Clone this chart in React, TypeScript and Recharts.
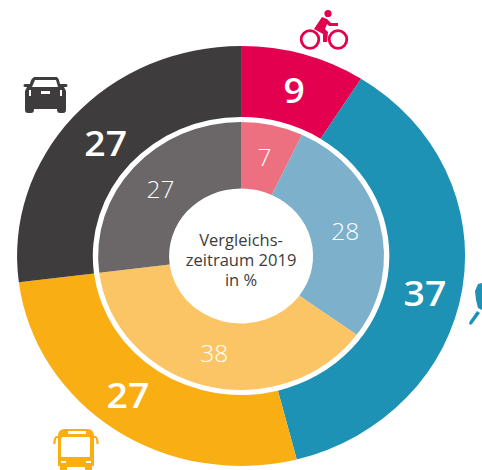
import React from 'react';
import { PieChart, Pie, Cell } from 'recharts';

// outer ring: current period, inner ring: 2019
const modes = ['Rad', 'Fuss', 'Bus', 'Auto'];
const outerValues = [9, 37, 27, 27];
const innerValues = [7, 28, 38, 27];
const outerColors = ['#E2004F', '#1D92B5', '#F9AE14', '#3E3C3D'];
const innerColors = ['#EC7080', '#7CB0CB', '#FBC566', '#6B6667'];
const centerLines = ['Vergleichs-', 'zeitraum 2019', 'in %'];

const outerData = modes.map((name, i) => ({ name, value: outerValues[i] }));
const innerData = modes.map((name, i) => ({ name, value: innerValues[i] }));

// the picture is stretched sideways a little, so the whole chart is too
const STRETCH = 1.0667;
const CX = 226;
const CY = 256;

const RAD = Math.PI / 180;

const ringLabel = (size: number, weight: number, nudge: number[][]) => (props: any) => {
  const { midAngle, innerRadius, outerRadius, value, index } = props;
  const r = (innerRadius + outerRadius) / 2;
  const x = CX + r * Math.cos(-midAngle * RAD) + nudge[index][0];
  const y = CY + r * Math.sin(-midAngle * RAD) + nudge[index][1];
  return (
    <text x={x} y={y} fill="#fff" fontSize={size} fontWeight={weight} textAnchor="middle" dominantBaseline="central">
      {value}
    </text>
  );
};

const Icons = () => (
  <svg width={482} height={470} style={{ position: 'absolute', left: 0, top: 0 }}>
    {/* bike */}
    <g fill="none" stroke="#E2004F" strokeWidth={2.8}>
      <circle cx={310} cy={39.5} r={8.8} />
      <circle cx={338} cy={39.5} r={8.8} />
    </g>
    <g fill="#E2004F">
      <circle cx={328} cy={13.5} r={3.6} />
      <path d="M322 17 L327 19 L331 23 L338 23 L338 26 L329 26 L327 24 L325 29 L328 32 L327 42 L323 42 L323 34 L314 29 Z" />
    </g>
    {/* car */}
    <g fill="#3E3C3D">
      <path d="M35 77 H56 C58 77 59 79 60 84 H66 C68 84 68 87 66 87 H64 L66 91 V110 C66 112 65 113 63 113 H60 C58 113 57 112 57 109 H34 C34 112 33 113 31 113 H28 C26 113 25 112 25 110 V91 L27 87 H25 C23 87 23 84 25 84 H30 C31 79 33 77 35 77 Z" />
    </g>
    <path d="M35 80 H56 L58 87 H32 Z" fill="#fff" />
    <path d="M41 91 H50 V94 H41 Z M29 90 L31 90 L31 96 L29 96 Z M60 90 L62 90 L62 96 L60 96 Z" fill="#fff" />
    {/* bus */}
    <g fill="#F9AE14">
      <path d="M65 429 H87 C92 429 94 432 94 436 V466 H92 V470 H85 V467 H67 V470 H60 V466 H58 V436 C58 432 60 429 65 429 Z" />
    </g>
    <g fill="none" stroke="#F9AE14" strokeWidth={2.2}>
      <path d="M58 437 H57 C55 437 54.5 439 54.5 444" />
      <path d="M94 437 H95 C97 437 97.5 439 97.5 444" />
    </g>
    <path d="M63 437 H89 C89.5 437 90 438 90 439 V456 C90 457 89 457 88 457 H63 C62 457 61 457 61 456 V439 C61 438 62 437 63 437 Z" fill="#fff" />
    <path d="M68 431 H86 V434 H68 Z" fill="#fff" />
    <path d="M61 461 H66 V463 H61 Z M86 461 H91 V463 H86 Z" fill="#fff" />
    {/* pedestrian, cut off by the frame */}
    <g fill="#1D92B5">
      <path d="M482 283 L478 284 L475 291 L476 300 L478 308 L482 310 Z" />
      <path d="M477 311 L480 313 L472 324 C470 326 468 324 470 321 Z" />
    </g>
  </svg>
);

export default function App() {
  return (
    <div style={{ position: 'absolute', left: 0, top: 0, width: 482, height: 470, overflow: 'hidden', background: '#fff' }}>
      <div style={{ position: 'absolute', left: 0, top: 0, transform: `scaleX(${STRETCH})`, transformOrigin: '0 0' }}>
        <PieChart width={452} height={470} margin={{ top: 0, right: 0, bottom: 0, left: 0 }} style={{ fontFamily: '"Open Sans", sans-serif' }}>
          <Pie
            data={outerData}
            dataKey="value"
            cx={CX}
            cy={CY}
            innerRadius={139}
            outerRadius={210}
            startAngle={90}
            endAngle={-270}
            stroke="none"
            label={ringLabel(35, 600, [[1, 1], [0, 9], [-8, -6], [4, 2]])}
            labelLine={false}
            isAnimationActive={false}
          >
            {outerColors.map((c) => <Cell key={c} fill={c} />)}
          </Pie>
          <Pie
            data={innerData}
            dataKey="value"
            cx={CX}
            cy={CY}
            innerRadius={67.5}
            outerRadius={134}
            startAngle={90}
            endAngle={-270}
            stroke="none"
            label={ringLabel(23, 300, [[0, 0], [0, 0], [0, 0], [0, 0]])}
            labelLine={false}
            isAnimationActive={false}
          >
            {innerColors.map((c) => <Cell key={c} fill={c} />)}
          </Pie>
          <text x={CX} textAnchor="middle" fill="#3C3C3B" fontSize={15.5}>
            {centerLines.map((line, i) => (
              <tspan key={line} x={CX} y={246 + i * 20}>{line}</tspan>
            ))}
          </text>
        </PieChart>
      </div>
      <Icons />
    </div>
  );
}
